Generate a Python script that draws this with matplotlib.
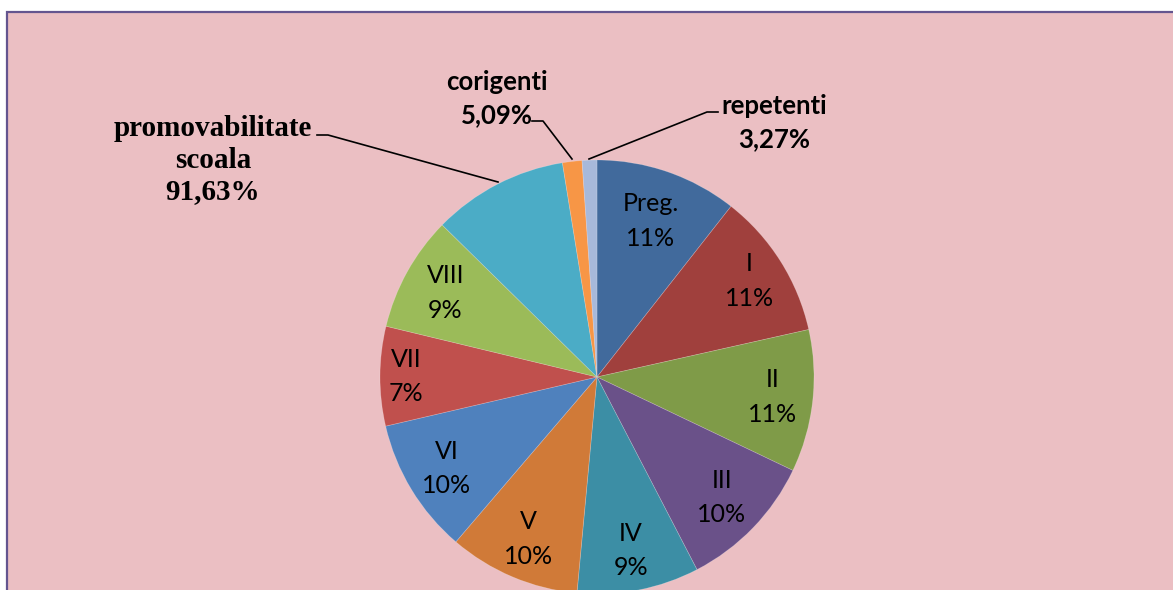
import matplotlib
matplotlib.use("Agg")
import matplotlib.pyplot as plt
import numpy as np

# Data
categories = ["Preg.", "I", "II", "III", "IV", "V", "VI", "VII", "VIII",
              "promovabilitate scoala", "corigenti", "repetenti"]
values = [10.6, 10.9, 10.6, 10.3, 9.1, 9.8, 10.1, 7.4, 8.6, 10.1, 1.45, 1.1]
inner_labels = ["Preg.\n11%", "I\n11%", "II\n11%", "III\n10%", "IV\n9%", "V\n10%",
                "VI\n10%", "VII\n7%", "VIII\n9%", "", "", ""]
outer_texts = {"promovabilitate scoala": "promovabilitate\nscoala\n91,63%",
               "corigenti": "corigenti\n5,09%",
               "repetenti": "repetenti\n3,27%"}
colors = ["#416A9C", "#A0403D", "#7F9B48", "#6A5189", "#3C8EA5", "#D07A38",
          "#4F81BD", "#C0504D", "#9BBB59", "#4BACC6", "#F79646", "#A7B9DA"]

W, H = 1173, 590
fig = plt.figure(figsize=(W / 100, H / 100), dpi=100)
fig.patch.set_facecolor("white")
ax = fig.add_axes([0, 0, 1, 1])

cx, cy, R = 597, H - 377, 217
wedges, _ = ax.pie(values, colors=colors, startangle=90, counterclock=False,
                   center=(cx, cy), radius=R, frame=True,
                   wedgeprops=dict(linewidth=0.5, edgecolor=(1, 1, 1, 0.25)))
ax.set_xlim(0, W)
ax.set_ylim(0, H)
ax.set_aspect("equal")
ax.axis("off")

# background panel with border
bg = plt.Rectangle((7, -10), W, H - 12 + 10, facecolor="#EBBFC3",
                   edgecolor="#64558F", linewidth=1.6, zorder=0)
ax.add_patch(bg)

label_r = [0.76, 0.83, 0.815, 0.80, 0.815, 0.81, 0.81, 0.88, 0.80]
for i, (w, lab) in enumerate(zip(wedges, inner_labels)):
    if not lab:
        continue
    ang = np.deg2rad((w.theta1 + w.theta2) / 2)
    r = R * label_r[i]
    x = cx + r * np.cos(ang)
    y = cy + r * np.sin(ang)
    ax.text(x, y, lab, ha="center", va="center", fontsize=18, family="Lato",
            linespacing=1.6, color="black")

# outer labels with leader lines
ax.text(213, H - 160, outer_texts["promovabilitate scoala"], ha="center", va="center",
        fontsize=21, fontweight="bold", family="Liberation Serif", linespacing=1.2)
ax.plot([317, 328, 498], [H - 135, H - 135, H - 182], color="black", lw=1.2)

ax.text(497, H - 99, outer_texts["corigenti"], ha="center", va="center",
        fontsize=18.5, fontweight="bold", family="Lato", linespacing=1.45)
ax.plot([532, 543, 572], [H - 121, H - 121, H - 159], color="black", lw=1.2)

ax.text(774, H - 123, outer_texts["repetenti"], ha="center", va="center",
        fontsize=18.5, fontweight="bold", family="Lato", linespacing=1.45)
ax.plot([589, 707, 718], [H - 159, H - 112, H - 112], color="black", lw=1.2)

fig.savefig("out.png", dpi=100, facecolor="white")
